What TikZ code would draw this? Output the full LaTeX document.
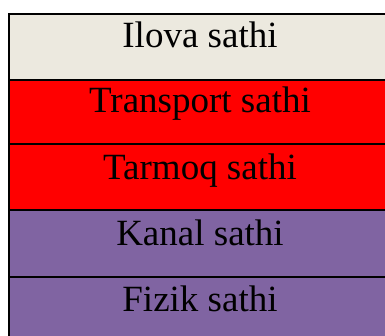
\documentclass[tikz,border=0pt]{standalone}
\usepackage{fontspec}
\setmainfont{Liberation Serif}
\definecolor{rowbeige}{HTML}{ECE9DF}
\definecolor{rowred}{HTML}{FF0000}
\definecolor{rowpurple}{HTML}{8064A2}
\tikzset{
  cell/.style={draw=black, line width=2pt},
  lbl/.style={anchor=base, inner sep=0pt, font=\fontsize{37}{40}\selectfont, text=black}
}
\begin{document}
\begin{tikzpicture}[x=1pt,y=-1pt]
\useasboundingbox (0,0) rectangle (385,336);
\fill[white] (0,0) rectangle (385,336);
\fill[rowbeige] (9,14) rectangle (392,80);
\fill[rowred] (9,80) rectangle (392,210);
\fill[rowpurple] (9,210) rectangle (392,344);
\draw[line width=2pt] (392,14) -- (9,14) -- (9,344);
\draw[line width=2pt] (9,80) -- (392,80);
\draw[line width=2pt] (9,144) -- (392,144);
\draw[line width=2pt] (9,210) -- (392,210);
\draw[line width=2pt] (9,277) -- (392,277);
\node[lbl] (r1) at (200,48) {Ilova sathi};
\node[lbl] (r2) at (200,113) {Transport sathi};
\node[lbl] (r3) at (200,180) {Tarmoq sathi};
\node[lbl] (r4) at (200,246) {Kanal sathi};
\node[lbl] (r5) at (200,312) {Fizik sathi};
\end{tikzpicture}
\end{document}
